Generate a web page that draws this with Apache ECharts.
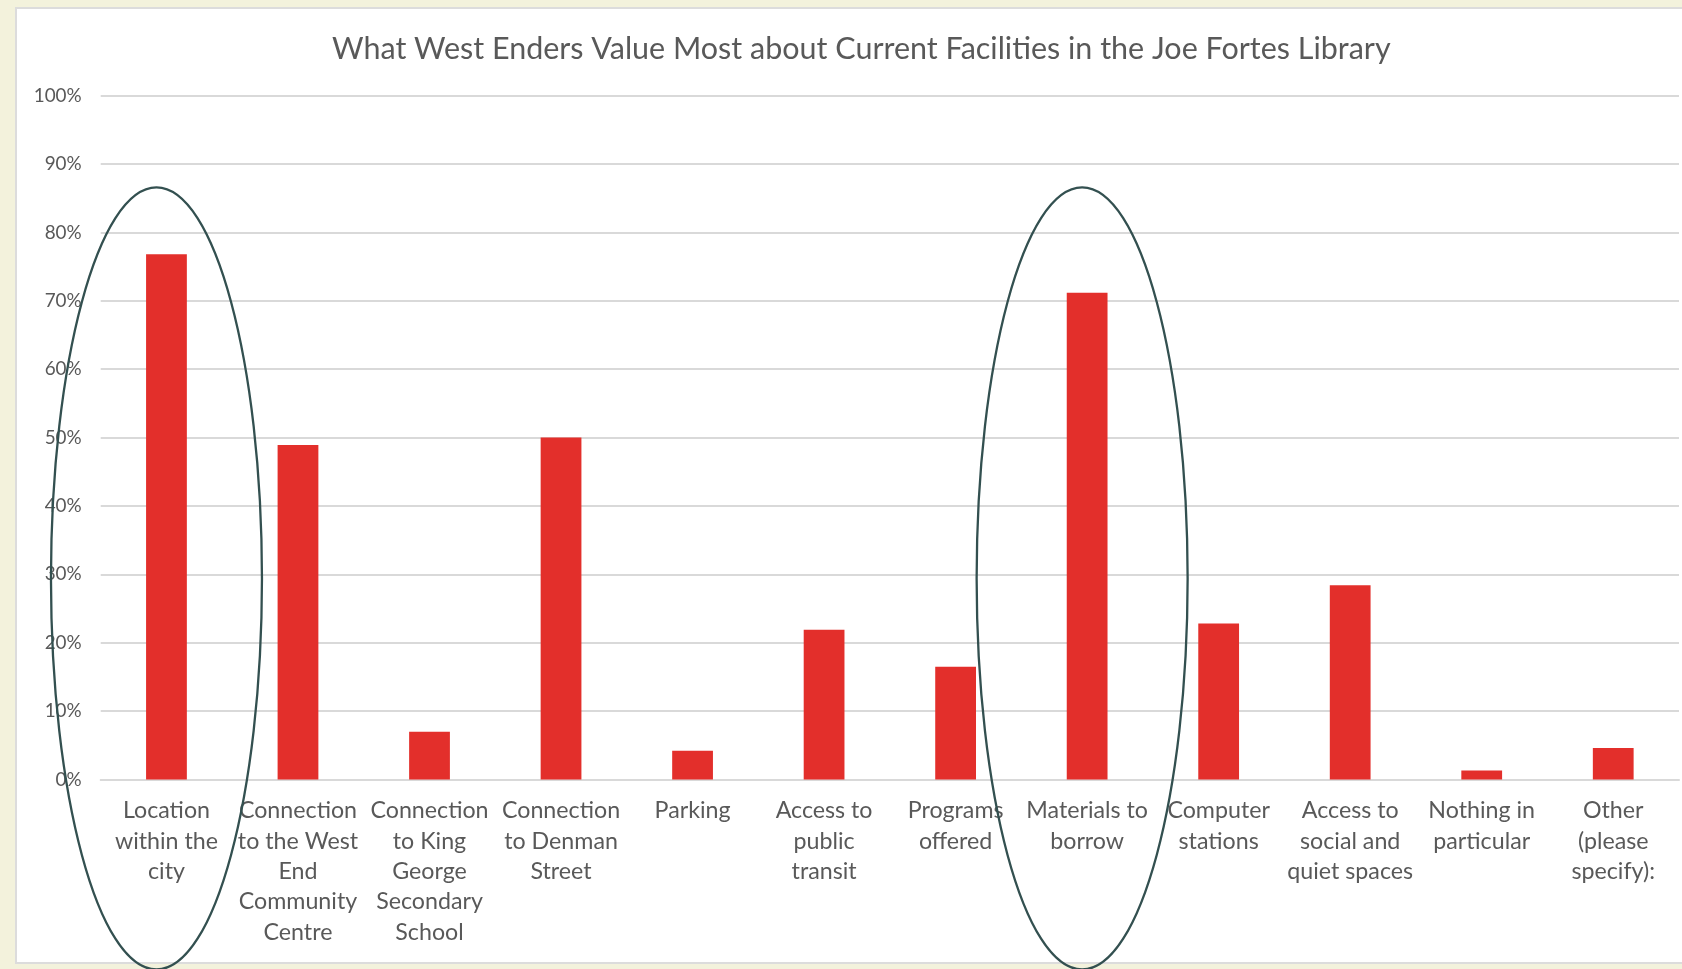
<!DOCTYPE html>
<html><head><meta charset="utf-8">
<script src="https://cdn.jsdelivr.net/npm/echarts@6/dist/echarts.min.js"></script>
<style>
html,body{margin:0;padding:0;width:1682px;height:969px;background:#f3f2dc;overflow:hidden}
#panel{position:absolute;left:15px;top:7px;width:1720px;height:957px;background:#fff;border:2px solid #dcdcdc;box-sizing:border-box}
#chart{position:absolute;left:0;top:0;width:1682px;height:969px}
</style></head><body><div id="panel"></div><div id="chart"></div>
<script>
const titleText = 'What West Enders Value Most about Current Facilities in the Joe Fortes Library';
const categories = [
  'Location\nwithin the\ncity',
  'Connection\nto the West\nEnd\nCommunity\nCentre',
  'Connection\nto King\nGeorge\nSecondary\nSchool',
  'Connection\nto Denman\nStreet',
  'Parking',
  'Access to\npublic\ntransit',
  'Programs\noffered',
  'Materials to\nborrow',
  'Computer\nstations',
  'Access to\nsocial and\nquiet spaces',
  'Nothing in\nparticular',
  'Other\n(please\nspecify):'
];
const values = [76.8, 48.9, 7.0, 50.0, 4.2, 21.9, 16.5, 71.2, 22.8, 28.4, 1.3, 4.6];
const yMin = 0, yMax = 100, yStep = 10;
const highlighted = [0, 7];

const FONT = 'Lato, "Open Sans", sans-serif';
function fitSize(text, target) {
  const c = document.createElement('canvas').getContext('2d');
  c.font = '100px ' + FONT;
  return 100 * target / c.measureText(text).width;
}
const titleSize = fitSize(titleText, 1059);
const catSize = fitSize('Materials to', 121.7);
const ySize = fitSize('100%', 48);

const chart = echarts.init(document.getElementById('chart'), null, {renderer: 'canvas'});
chart.setOption({
  backgroundColor: 'transparent',
  animation: false,
  textStyle: {fontFamily: FONT},
  title: {
    text: titleText,
    left: 327,
    top: 48.5 - titleSize * 0.62,
    textStyle: {fontFamily: FONT, fontSize: titleSize, fontWeight: 'normal', color: '#595959'}
  },
  grid: {left: 100.7, right: 3, top: 95.7, bottom: 189.5, containLabel: false},
  xAxis: {
    type: 'category',
    data: categories,
    axisLine: {show: true, lineStyle: {color: '#d9d9d9', width: 2}},
    axisTick: {show: false},
    axisLabel: {interval: 0, fontFamily: FONT, fontSize: catSize, lineHeight: 30.4, color: '#595959', margin: 16}
  },
  yAxis: {
    type: 'value',
    min: yMin, max: yMax, interval: yStep,
    axisLine: {show: false},
    axisTick: {show: false},
    axisLabel: {formatter: '{value}%', fontFamily: FONT, fontSize: ySize, color: '#595959', margin: 19},
    splitLine: {lineStyle: {color: '#d9d9d9', width: 2}}
  },
  series: [{
    type: 'bar',
    data: values,
    barWidth: '31%',
    itemStyle: {color: '#e32f2b'}
  }]
});

const dxs = {0: -10, 7: -5};
const ellipses = highlighted.map(function (idx) {
  const cx = chart.convertToPixel({xAxisIndex: 0}, idx) + dxs[idx];
  const cy = chart.convertToPixel({yAxisIndex: 0}, 29.4);
  return {
    type: 'ellipse',
    shape: {cx: cx, cy: cy, rx: 105.5, ry: 391},
    style: {fill: 'none', stroke: '#335050', lineWidth: 2.3},
    z: 100
  };
});
chart.setOption({graphic: ellipses});
</script>
</body></html>
